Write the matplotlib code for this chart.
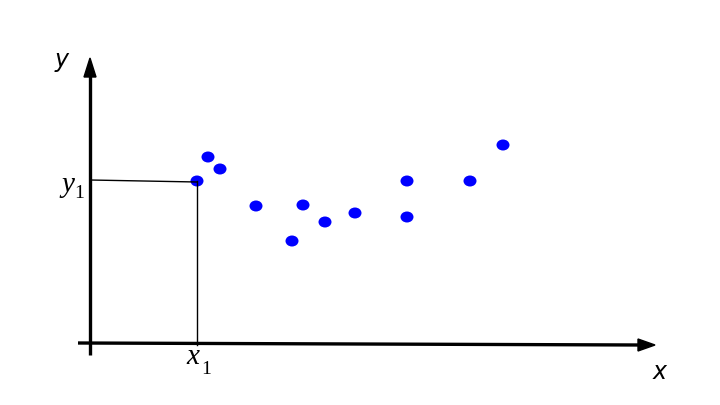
import matplotlib
matplotlib.use("Agg")
import matplotlib.pyplot as plt
from matplotlib.patches import Ellipse, Polygon

# data points (x, y)
xs = [10.7, 11.8, 13.0, 16.6, 20.2, 21.3, 23.5, 26.5, 31.7, 31.7, 38.0, 41.3]
ys = [16.4, 18.8, 17.6, 13.9, 10.4, 14.0, 12.3, 13.2, 16.4, 12.8, 16.4, 20.0]
x1, y1 = xs[0], ys[0]

fig = plt.figure(figsize=(7.2, 4.05), dpi=100)
ax = fig.add_axes([0, 0, 1, 1])
ax.set_xlim(-9, 63)
ax.set_ylim(-6, 34.5)
ax.axis('off')

# axes lines
ax.plot([-1.2, 55.0], [0.2, 0], color='black', lw=2.4, solid_capstyle='butt')
ax.plot([0, 0], [-1.0, 27.5], color='black', lw=2.4, solid_capstyle='butt')
# arrow heads
ax.add_patch(Polygon([[54.8, 0.6], [54.8, -0.6], [56.5, 0]], closed=True, fc='black', ec='black', lw=1))
ax.add_patch(Polygon([[-0.6, 26.8], [0.6, 26.8], [0, 28.7]], closed=True, fc='black', ec='black', lw=1))

# guide lines
ax.plot([0, x1], [16.5, y1 - 0.1], color='black', lw=1.0)
ax.plot([x1, x1], [y1, 0], color='black', lw=1.0)

# points
for x, y in zip(xs, ys):
    ax.add_patch(Ellipse((x, y), 1.3, 1.1, fc='#0000ff', ec='none'))

# labels
ax.text(-2.8, 28.5, 'y', fontsize=17, style='italic', family='DejaVu Sans', ha='center', va='center')
ax.text(57.0, -2.7, 'x', fontsize=17, style='italic', family='DejaVu Sans', ha='center', va='center')
ax.text(-2.2, 16.0, 'y', fontsize=21, style='italic', family='Liberation Serif', ha='center', va='center')
ax.text(-1.1, 15.2, '1', fontsize=14, family='Liberation Serif', ha='center', va='center')
ax.text(x1 - 0.4, -1.2, 'x', fontsize=21, style='italic', family='Liberation Serif', ha='center', va='center')
ax.text(x1 + 0.9, -2.4, '1', fontsize=14, family='Liberation Serif', ha='center', va='center')

fig.savefig('out.png', dpi=100)
